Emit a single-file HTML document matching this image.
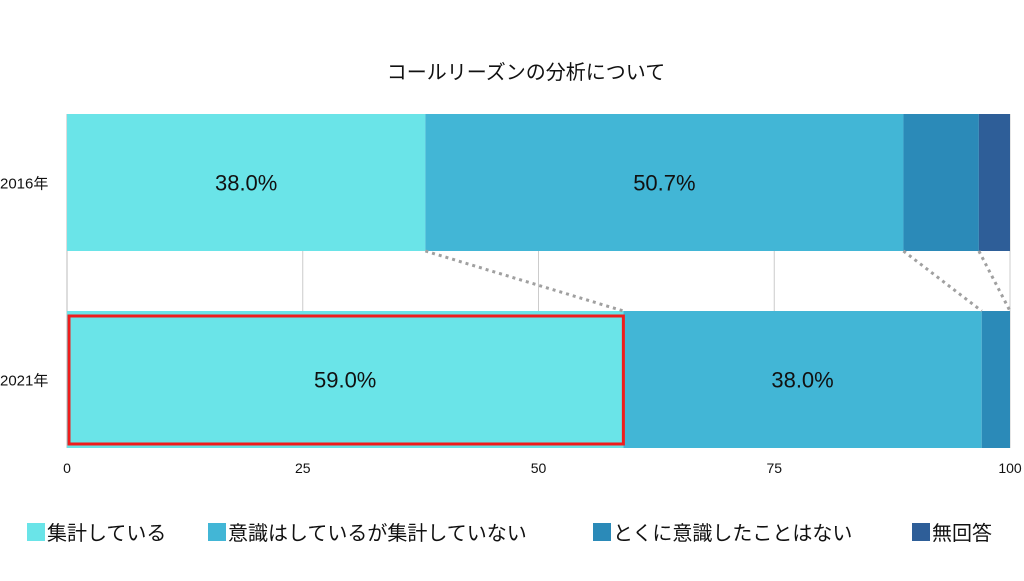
<!DOCTYPE html>
<html><head><meta charset="utf-8">
<style>
html,body{margin:0;padding:0;background:#fff;}
body{width:1024px;height:576px;overflow:hidden;font-family:"Liberation Sans","Noto Sans CJK JP",sans-serif;}
</style></head>
<body>
<svg id="chart" width="1024" height="576" xmlns="http://www.w3.org/2000/svg" font-family="'Liberation Sans','Noto Sans CJK JP',sans-serif">
<text x="526" y="79" font-size="20" text-anchor="middle" fill="#111">コールリーズンの分析について</text>
<g id="grid"></g>
<g id="bars"></g>
<g id="connectors"></g>
<g id="xticks"></g>
<g id="ycats"></g>
<g id="legend"></g>
</svg>
<script>
const categories = ["2016年", "2021年"];
const seriesNames = ["集計している", "意識はしているが集計していない", "とくに意識したことはない", "無回答"];
const series2016 = [38.0, 50.7, 8.0, 3.3];
const series2021 = [59.0, 38.0, 3.0, 0];
const labels2016 = ["38.0%", "50.7%", "", ""];
const labels2021 = ["59.0%", "38.0%", "", ""];
const tickValues = [0, 25, 50, 75, 100];
const tickLabels = ["0", "25", "50", "75", "100"];

const colors = ["#6ae4e8", "#42b6d6", "#2b8ab8", "#2e5e98"];
const NS = "http://www.w3.org/2000/svg";
const x0 = 67, x1 = 1010;
const xs = v => x0 + (x1 - x0) * v / 100;
const rowTop = [114, 311], rowH = 137;
const allSeries = [series2016, series2021];
const allLabels = [labels2016, labels2021];
function mk(tag, attrs, parent){const e=document.createElementNS(NS,tag);for(const k in attrs)e.setAttribute(k,attrs[k]);parent.appendChild(e);return e;}

const grid = document.getElementById("grid");
tickValues.forEach((t,i)=>{
  const l = mk("line",{x1:xs(t),x2:xs(t),y1:114,y2:448,stroke:i===0?"#bbb":"#ccc","stroke-width":1},grid);
  
  
  const tx = mk("text",{x:xs(t),y:473,"font-size":14,"text-anchor":"middle",fill:"#111"},document.getElementById("xticks"));
  tx.textContent = tickLabels[i];
  
  
});

const bars = document.getElementById("bars");
const ends = [];
allSeries.forEach((s,r)=>{
  let acc = 0; const e=[];
  s.forEach((v,j)=>{
    if(v>0){
      const rc = mk("rect",{x:xs(acc),y:rowTop[r],width:xs(acc+v)-xs(acc),height:rowH,fill:colors[j]},bars);
      
      
      if(allLabels[r][j]){
        const t = mk("text",{x:(xs(acc)+xs(acc+v))/2,y:rowTop[r]+rowH/2+8,"font-size":22,"text-anchor":"middle",fill:"#111"},bars);
        t.textContent = allLabels[r][j];
        
        
      }
    }
    acc += v; e.push(xs(acc));
  });
  ends.push(e);
  const c = mk("text",{x:0,y:rowTop[r]+rowH/2+6,"font-size":15,fill:"#111"},document.getElementById("ycats"));
  c.textContent = categories[r];
  
  
});
// highlight box
const hb = mk("rect",{x:xs(0)+2,y:rowTop[1]+5,width:xs(series2021[0])-xs(0)-2,height:rowH-9,fill:"none",stroke:"#f01c1c","stroke-width":3},bars);



const conn = document.getElementById("connectors");
[0,1,2].forEach(j=>{
  const l = mk("line",{x1:ends[0][j],y1:251,x2:ends[1][j],y2:311,stroke:"#a0a0a0","stroke-width":3,"stroke-dasharray":"3 4"},conn);
  
  
});

const legend = document.getElementById("legend");
const legX = [27, 208, 593, 912];
seriesNames.forEach((n,j)=>{
  const g = mk("g",{},legend);
  
  
  mk("rect",{x:legX[j],y:523,width:18,height:18,fill:colors[j]},g);
  const t = mk("text",{x:legX[j]+20,y:540,"font-size":20,fill:"#111"},g);
  t.textContent = n;
});
</script>
</body></html>
